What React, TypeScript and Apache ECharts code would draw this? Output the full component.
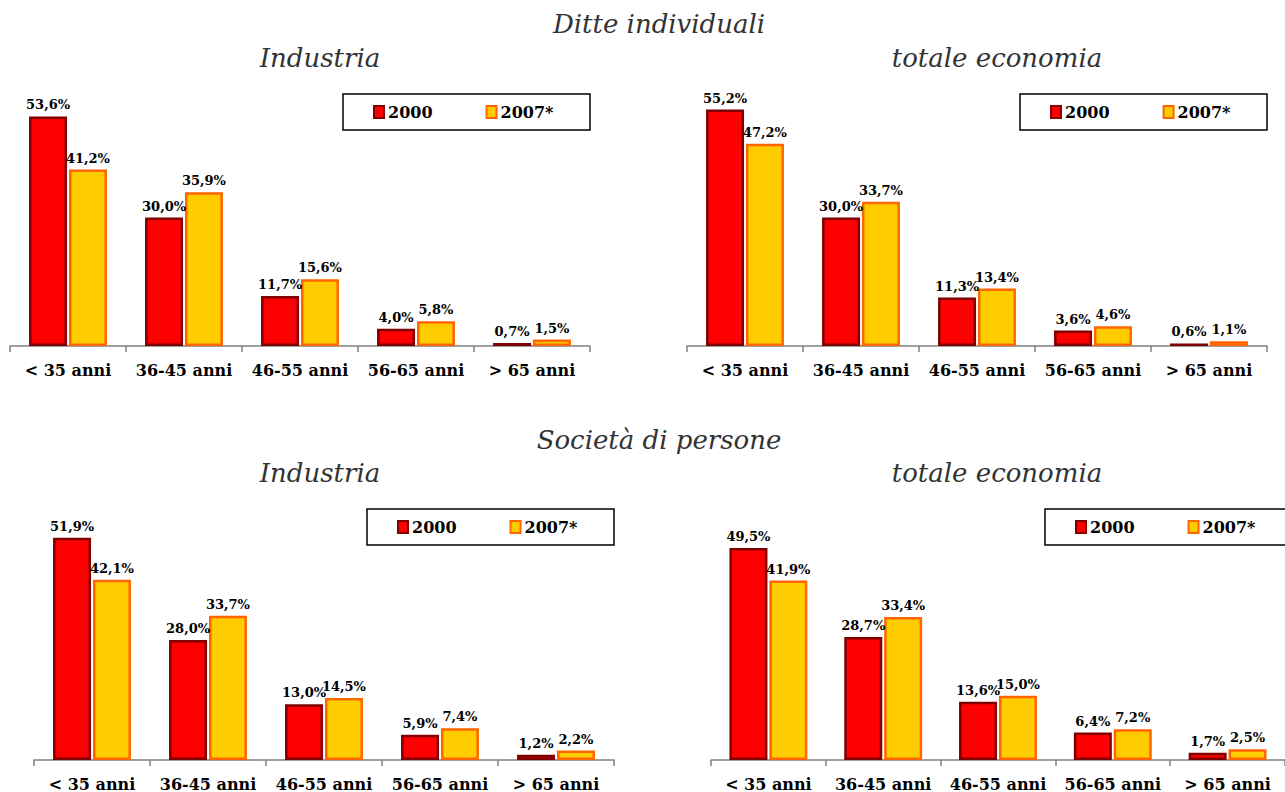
import React, { useEffect, useRef } from "react";
import * as echarts from "echarts";

const categories = ["< 35 anni", "36-45 anni", "46-55 anni", "56-65 anni", "> 65 anni"];
const seriesNames = ["2000", "2007*"];

const ditteIndustria2000 = [53.6, 30.0, 11.7, 4.0, 0.7];
const ditteIndustria2007 = [41.2, 35.9, 15.6, 5.8, 1.5];
const ditteTotale2000 = [55.2, 30.0, 11.3, 3.6, 0.6];
const ditteTotale2007 = [47.2, 33.7, 13.4, 4.6, 1.1];
const socIndustria2000 = [51.9, 28.0, 13.0, 5.9, 1.2];
const socIndustria2007 = [42.1, 33.7, 14.5, 7.4, 2.2];
const socTotale2000 = [49.5, 28.7, 13.6, 6.4, 1.7];
const socTotale2007 = [41.9, 33.4, 15.0, 7.2, 2.5];

const panelData = [
  [ditteIndustria2000, ditteIndustria2007],
  [ditteTotale2000, ditteTotale2007],
  [socIndustria2000, socIndustria2007],
  [socTotale2000, socTotale2007],
];

const FONT = "'DejaVu Serif', 'Liberation Serif', serif";

const panels = [
  { left: 10, top: 89, box: [343, 94, 247] },
  { left: 687, top: 89, box: [1020, 94, 247] },
  { left: 34, top: 503, box: [367, 509, 247] },
  { left: 711, top: 503, box: [1045, 509, 260] },
];

const styles = [
  { color: "#FF0000", borderColor: "#800000" },
  { color: "#FFCC00", borderColor: "#FF6600" },
];

export default function App() {
  const ref = useRef<HTMLDivElement>(null);
  useEffect(() => {
    if (!ref.current) return;
    const chart = echarts.init(ref.current, undefined, { renderer: "svg" });
    const grids = panels.map((p) => ({ left: p.left, top: p.top, width: 580, height: 257 }));
    const xAxes = panels.map((_, i) => ({
      type: "category",
      gridIndex: i,
      data: categories,
      axisLine: { lineStyle: { color: "#808080", width: 1.5 } },
      axisTick: { show: true, length: 6, lineStyle: { color: "#808080", width: 1.5 } },
      axisLabel: {
        interval: 0,
        color: "#000",
        fontFamily: FONT,
        fontWeight: "bold",
        fontSize: 16,
        margin: 16,
      },
    }));
    const yAxes = panels.map((_, i) => ({
      type: "value",
      gridIndex: i,
      min: 0,
      max: 60,
      show: false,
      splitLine: { show: false },
    }));
    const series: any[] = [];
    panelData.forEach((pair, i) => {
      pair.forEach((vals, j) => {
        series.push({
          type: "bar",
          name: seriesNames[j],
          xAxisIndex: i,
          yAxisIndex: i,
          data: vals,
          barWidth: 38,
          barGap: "5%",
          itemStyle: { color: styles[j].color, borderColor: styles[j].borderColor, borderWidth: 2.5 },
          label: {
            show: true,
            position: "top",
            distance: 5,
            color: "#000",
            fontFamily: FONT,
            fontWeight: "bold",
            fontSize: 13,
            formatter: (p: any) => p.value.toFixed(1).replace(".", ",") + "%",
          },
        });
      });
    });
    const legends = panels.map((p) => ({
      data: seriesNames,
      left: p.box[0] + 30,
      top: p.box[1] + 10,
      icon: "rect",
      itemWidth: 10,
      itemHeight: 12,
      itemGap: 53,
      padding: 0,
      textStyle: { color: "#000", fontFamily: FONT, fontWeight: "bold", fontSize: 16, padding: [0, 0, 0, -1] },
    }));
    const titleStyle = (x: number, y: number, text: string) => ({
      type: "text",
      x,
      y,
      style: {
        text,
        fill: "#333",
        font: `italic 26px ${FONT}`,
        textAlign: "center",
        textVerticalAlign: "middle",
      },
    });
    const graphic: any[] = [
      titleStyle(659, 24, "Ditte individuali"),
      titleStyle(320, 58, "Industria"),
      titleStyle(997, 58, "totale economia"),
      titleStyle(659, 440, "Società di persone"),
      titleStyle(320, 473, "Industria"),
      titleStyle(997, 473, "totale economia"),
      ...panels.map((p) => ({
        type: "rect",
        shape: { x: p.box[0], y: p.box[1], width: p.box[2], height: 36 },
        style: { fill: "none", stroke: "#000", lineWidth: 1.5 },
      })),
    ];
    chart.setOption({
      animation: false,
      backgroundColor: "#fff",
      grid: grids,
      xAxis: xAxes,
      yAxis: yAxes,
      legend: legends,
      series,
      graphic,
    });
    return () => chart.dispose();
  }, []);
  return <div ref={ref} style={{ position: "fixed", left: 0, top: 0, width: 1285, height: 792 }} />;
}
